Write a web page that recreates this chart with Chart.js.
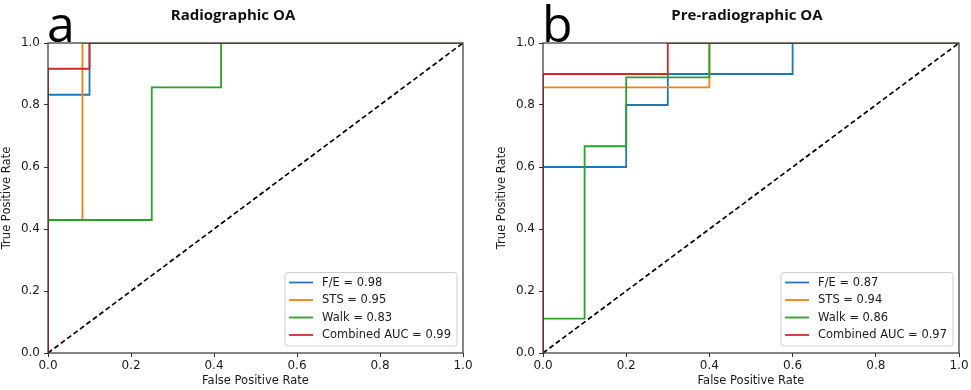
<!DOCTYPE html>
<html><head><meta charset="utf-8">
<script src="https://cdn.jsdelivr.net/npm/chart.js@4/dist/chart.umd.min.js"></script>
<style>
html,body{margin:0;padding:0;background:#fff;}
#wrap{position:relative;width:971px;height:390px;overflow:hidden;}
.panel{position:absolute;top:0;height:390px;}
</style></head><body>
<div id="wrap">
<div class="panel" style="left:0;width:485px"><canvas id="ca"></canvas></div>
<div class="panel" style="left:485px;width:486px"><canvas id="cb"></canvas></div>
</div>
<script>
// ---- data ----
const axisTicks = [0, 0.2, 0.4, 0.6, 0.8, 1.0];
const diagX = [0, 1], diagY = [0, 1];

const titleA = 'Radiographic OA', titleB = 'Pre-radiographic OA';
const letterA = 'a', letterB = 'b';
const xLabel = 'False Positive Rate', yLabel = 'True Positive Rate';

const seriesNames = ['F/E', 'STS', 'Walk', 'Combined AUC'];
const aucA = [0.98, 0.95, 0.83, 0.99];
const aucB = [0.87, 0.94, 0.86, 0.97];

const aFE_x   = [0, 0, 0.1, 0.1, 1];
const aFE_y   = [0, 0.833, 0.833, 1, 1];
const aSTS_x  = [0, 0, 0.083, 0.083, 1];
const aSTS_y  = [0, 0.429, 0.429, 1, 1];
const aWalk_x = [0, 0, 0.25, 0.25, 0.417, 0.417, 1];
const aWalk_y = [0, 0.429, 0.429, 0.857, 0.857, 1, 1];
const aComb_x = [0, 0, 0.1, 0.1, 1];
const aComb_y = [0, 0.917, 0.917, 1, 1];

const bFE_x   = [0, 0, 0.2, 0.2, 0.3, 0.3, 0.6, 0.6, 1];
const bFE_y   = [0, 0.6, 0.6, 0.8, 0.8, 0.9, 0.9, 1, 1];
const bSTS_x  = [0, 0, 0.4, 0.4, 1];
const bSTS_y  = [0, 0.857, 0.857, 1, 1];
const bWalk_x = [0, 0, 0.1, 0.1, 0.2, 0.2, 0.4, 0.4, 1];
const bWalk_y = [0, 0.111, 0.111, 0.667, 0.667, 0.889, 0.889, 1, 1];
const bComb_x = [0, 0, 0.3, 0.3, 1];
const bComb_y = [0, 0.9, 0.9, 1, 1];

// ---- styles ----
const colors = ['#1f77b4', '#ff7f0e', '#2ca02c', '#d62728'];
const FONT = 'DejaVu Sans';
const TXT = '#1a1a1a';

function pts(xs, ys) { return xs.map((x, i) => ({ x: x, y: ys[i] })); }

function makeDatasets(curves, aucs) {
  const ds = curves.map((c, i) => ({
    label: seriesNames[i] + ' = ' + aucs[i].toFixed(2),
    data: pts(c[0], c[1]),
    borderColor: colors[i],
    backgroundColor: colors[i],
    borderWidth: 1.8,
    pointRadius: 0,
    showLine: true,
    fill: false,
    order: 4 - i
  }));
  ds.push({
    label: '',
    inLegend: false,
    data: pts(diagX, diagY),
    borderColor: '#000',
    borderWidth: 1.7,
    borderDash: [5, 3],
    pointRadius: 0,
    showLine: true,
    fill: false,
    order: 10
  });
  return ds;
}

const panelPlugin = {
  id: 'panel',
  afterDatasetsDraw(chart, args, o) {
    const { ctx, chartArea: a } = chart;
    ctx.save();
    ctx.strokeStyle = '#333';
    ctx.lineWidth = 1.2;
    ctx.strokeRect(a.left, a.top, a.right - a.left, a.bottom - a.top);
    ctx.restore();
  },
  afterDraw(chart, args, o) {
    const { ctx, chartArea: a } = chart;
    ctx.save();
    // legend
    const items = chart.data.datasets.filter(d => d.inLegend !== false);
    ctx.font = '11.5px "' + FONT + '"';
    let tw = 0;
    items.forEach(d => { tw = Math.max(tw, ctx.measureText(d.label).width); });
    const rowH = 17.5, padL = 4, sample = 24, gap = 9, padR = 6, padV = 10;
    const w = padL + sample + gap + tw + padR;
    const h = padV * 2 + rowH * (items.length - 1) + 1;
    const x0 = a.right - 6 - w, y0 = a.bottom - 7 - h;
    ctx.beginPath();
    ctx.roundRect(x0, y0, w, h, 3);
    ctx.fillStyle = 'rgba(255,255,255,0.85)';
    ctx.fill();
    ctx.strokeStyle = '#cccccc';
    ctx.lineWidth = 1;
    ctx.stroke();
    items.forEach((d, i) => {
      const cy = y0 + padV + i * rowH;
      ctx.beginPath();
      ctx.strokeStyle = d.borderColor;
      ctx.lineWidth = 1.8;
      ctx.moveTo(x0 + padL, cy);
      ctx.lineTo(x0 + padL + sample, cy);
      ctx.stroke();
      ctx.fillStyle = TXT;
      ctx.textBaseline = 'middle';
      ctx.textAlign = 'left';
      ctx.fillText(d.label, x0 + padL + sample + gap, cy + 0.5);
    });
    // title
    ctx.fillStyle = '#111';
    ctx.font = 'bold 15px "Open Sans"';
    ctx.textAlign = 'center';
    ctx.textBaseline = 'alphabetic';
    ctx.fillText(o.title, o.titleX, 20);
    // panel letter
    ctx.font = '50px "Open Sans"';
    ctx.textAlign = 'left';
    ctx.fillStyle = '#000';
    ctx.fillText(o.letter, o.letterX, 42);
    ctx.restore();
  }
};

function axisOpts(isX) {
  return {
    type: 'linear',
    min: 0, max: 1,
    afterBuildTicks(s) { s.ticks = axisTicks.map(v => ({ value: v })); },
    ticks: {
      callback: v => v.toFixed(1),
      font: { family: FONT, size: 12 },
      color: TXT,
      padding: isX ? 2 : 4,
      maxRotation: 0,
      autoSkip: false
    },
    grid: { drawOnChartArea: false, tickLength: 4, color: '#333', lineWidth: 1 },
    border: { display: false },
    title: {
      display: true,
      text: isX ? xLabel : yLabel,
      font: { family: FONT, size: 11.5 },
      color: TXT,
      padding: { top: 0, bottom: isX ? 2 : 4 }
    },
    afterFit(s) { if (isX) s.height = 37; else s.width = 48; }
  };
}

function makeChart(id, curves, aucs, title, titleX, letter, letterX, padding) {
  return new Chart(document.getElementById(id), {
    type: 'scatter',
    data: { datasets: makeDatasets(curves, aucs) },
    options: {
      responsive: true,
      maintainAspectRatio: false,
      animation: false,
      layout: { padding: padding },
      plugins: {
        legend: { display: false },
        tooltip: { enabled: false },
        title: { display: false },
        panel: { title: title, titleX: titleX, letter: letter, letterX: letterX }
      },
      scales: { x: axisOpts(true), y: axisOpts(false) }
    },
    plugins: [panelPlugin]
  });
}

makeChart('ca',
  [[aFE_x, aFE_y], [aSTS_x, aSTS_y], [aWalk_x, aWalk_y], [aComb_x, aComb_y]],
  aucA, titleA, 233, letterA, 47, { left: 0, right: 22, top: 43, bottom: 0 });

makeChart('cb',
  [[bFE_x, bFE_y], [bSTS_x, bSTS_y], [bWalk_x, bWalk_y], [bComb_x, bComb_y]],
  aucB, titleB, 262, letterB, 57, { left: 10, right: 12, top: 43, bottom: 0 });
</script>
</body></html>
